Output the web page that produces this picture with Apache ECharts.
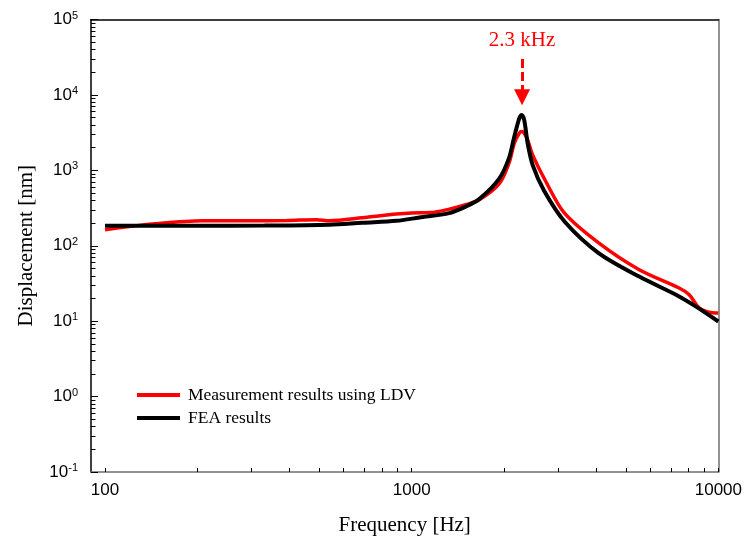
<!DOCTYPE html>
<html>
<head>
<meta charset="utf-8">
<script src="https://cdn.jsdelivr.net/npm/echarts@6/dist/echarts.min.js"></script>
<style>
  html, body { margin: 0; padding: 0; background: #fff; }
  #chart { width: 745px; height: 541px; }
</style>
</head>
<body>
<div id="chart"></div>
<script>
// measured curve (LDV)
const ldvFreq = [100, 120, 143, 208, 300, 391, 489, 540, 690, 891, 1000, 1150, 1327, 1500, 1660, 1927, 2076, 2161, 2244, 2282, 2327, 2388, 2479, 2740, 3150, 4070, 5521, 7448, 8035, 8650, 9311, 10000];
const ldvDisp = [163, 180, 195, 214, 215, 216, 222, 215, 235, 263, 272, 275, 306, 350, 406, 660, 1245, 2291, 3112, 3266, 3112, 2536, 1603, 705, 270, 109, 48, 27.5, 22.4, 15, 13.2, 12.8];

// simulation curve (FEA)
const feaFreq = [100, 200, 331, 540, 690, 891, 1059, 1327, 1500, 1660, 1927, 2076, 2161, 2244, 2282, 2327, 2388, 2479, 2700, 3150, 4070, 5521, 7448, 8437, 10000];
const feaDisp = [184, 184, 185, 190, 202, 214, 237, 271, 330, 415, 770, 1452, 2806, 4909, 5430, 4667, 2291, 1183, 540, 210, 80, 39, 21.3, 15.7, 9.9];

const xMinorTicks = [100, 200, 300, 400, 500, 600, 700, 800, 900, 1000, 2000, 3000, 4000, 5000, 6000, 7000, 8000, 9000, 10000];
const xLabels = [100, 1000, 10000];
const yDecades = [0.1, 1, 10, 100, 1000, 10000, 100000];
const yMinorTicks = [];
yDecades.slice(0, -1).forEach(d => { for (let k = 1; k <= 9; k++) yMinorTicks.push(+(d * k).toPrecision(3)); });
yMinorTicks.push(100000);

const peakFreq = 2290;
const peakText = '2.3 kHz';
const arrowFrom = 30000;
const arrowTo = 9300;

const ldv = ldvFreq.map((f, i) => [f, ldvDisp[i]]);
const fea = feaFreq.map((f, i) => [f, feaDisp[i]]);

const chart = echarts.init(document.getElementById('chart'));
const sans = 'Liberation Sans';
const serif = 'Liberation Serif';

const option = {
  animation: false,
  grid: { left: 91, right: 23, top: 19.5, bottom: 68.5 },
  legend: {
    left: 137, top: 386, orient: 'vertical', padding: 0,
    itemWidth: 43, itemHeight: 4, itemGap: 5, icon: 'rect',
    textStyle: { fontFamily: serif, fontSize: 17.5, color: '#000', padding: [0, 0, 0, 3] },
    data: ['Measurement results using LDV', 'FEA results']
  },
  xAxis: [
    {
      type: 'log', logBase: 10, min: 90, max: 10000, position: 'bottom',
      name: 'Frequency [Hz]', nameLocation: 'middle', nameGap: 43,
      nameTextStyle: { fontFamily: serif, fontSize: 21, color: '#000' },
      axisLine: { lineStyle: { color: '#6f6f6f', width: 1.5 } },
      axisTick: { inside: true, length: 4, customValues: xMinorTicks, lineStyle: { color: '#000' } },
      axisLabel: { customValues: xLabels, margin: 10, formatter: v => String(v), fontFamily: sans, fontSize: 17, color: '#000' },
      splitLine: { show: false }, minorTick: { show: false }
    },
    {
      type: 'log', logBase: 10, min: 90, max: 10000, position: 'top',
      axisLine: { lineStyle: { color: '#000', width: 1.5 } },
      axisTick: { show: false }, axisLabel: { show: false }, splitLine: { show: false }
    }
  ],
  yAxis: [
    {
      type: 'log', logBase: 10, min: 0.1, max: 100000, position: 'left',
      name: 'Displacement [nm]', nameLocation: 'middle', nameGap: 54, nameRotate: 90,
      nameTextStyle: { fontFamily: serif, fontSize: 21, color: '#000' },
      axisLine: { lineStyle: { color: '#000', width: 1.5 } },
      axisTick: { inside: true, length: 4.5, customValues: yMinorTicks, lineStyle: { color: '#000' } },
      axisLabel: {
        customValues: yDecades, margin: 13,
        formatter: v => '{a|10}{b|' + Math.round(Math.log10(v)) + '}',
        rich: {
          a: { fontFamily: sans, fontSize: 17, color: '#000' },
          b: { fontFamily: sans, fontSize: 11, color: '#000', verticalAlign: 'top', padding: [0, 0, 8, 0] }
        }
      },
      splitLine: { show: false }
    },
    {
      type: 'log', logBase: 10, min: 0.1, max: 100000, position: 'left',
      axisLine: { show: false },
      axisTick: { inside: true, length: 7, customValues: yDecades, lineStyle: { color: '#000' } },
      axisLabel: { show: false }, splitLine: { show: false }
    },
    {
      type: 'log', logBase: 10, min: 0.1, max: 100000, position: 'right',
      axisLine: { lineStyle: { color: '#6f6f6f', width: 1.5 } },
      axisTick: { show: false }, axisLabel: { show: false }, splitLine: { show: false }
    }
  ],
  series: [
    {
      name: 'Measurement results using LDV', type: 'line', data: ldv,
      xAxisIndex: 0, yAxisIndex: 0,
      showSymbol: false, smooth: 0.3,
      color: '#ff0000', lineStyle: { color: '#ff0000', width: 3.5 }
    },
    {
      name: 'FEA results', type: 'line', data: fea,
      xAxisIndex: 0, yAxisIndex: 0,
      showSymbol: false, smooth: 0.3,
      color: '#000', lineStyle: { color: '#000', width: 4 },
      markLine: {
        silent: true, animation: false,
        symbol: ['none', 'triangle'], symbolSize: 16,
        lineStyle: { color: '#ff0000', width: 3, type: [9, 4] },
        label: {
          show: true, position: 'start', formatter: peakText, distance: 8,
          fontFamily: serif, fontSize: 21, color: '#ff0000'
        },
        data: [[{ coord: [peakFreq, arrowFrom] }, { coord: [peakFreq, arrowTo] }]]
      }
    }
  ]
};
chart.setOption(option);
</script>
</body>
</html>
